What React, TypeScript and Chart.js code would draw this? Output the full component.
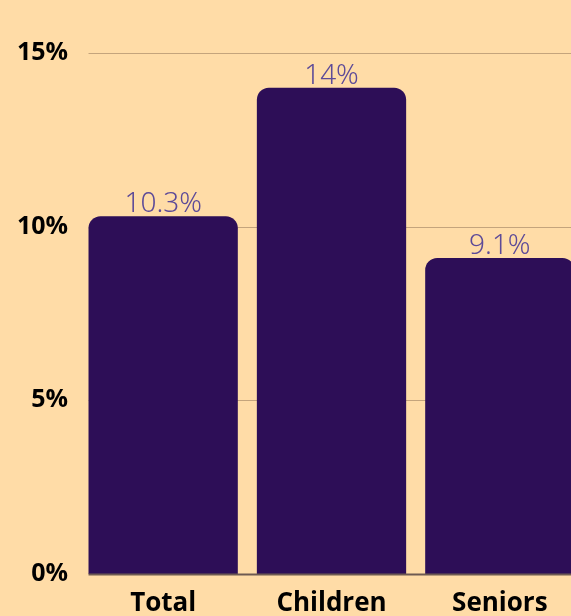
import React, { useEffect, useRef } from "react";
import { Chart, registerables } from "chart.js";

Chart.register(...registerables);

const categories = ["Total", "Children", "Seniors"];
const values = [10.3, 14, 9.1];
const valueLabels = ["10.3%", "14%", "9.1%"];
const yTicks = [0, 5, 10, 15];

const BG = "#FFDCA7";
const BAR = "#2D0E57";
const LABEL = "#5D4A98";
const GRID = "#C4A47C";
const ZERO = "#6E5A52";

export default function App() {
  const ref = useRef<HTMLCanvasElement | null>(null);

  useEffect(() => {
    if (!ref.current) return;
    const customPlugin = {
      id: "custom",
      beforeDatasetsDraw(chart: any) {
        const { ctx, chartArea } = chart;
        const meta = chart.getDatasetMeta(0);
        const first = meta.data[0] as any;
        const startX = first.x - first.width / 2;
        const y = chart.scales.y;
        ctx.save();
        ctx.strokeStyle = GRID;
        ctx.lineWidth = 1;
        yTicks.forEach((t) => {
          if (t === 0) return;
          const py = Math.round(y.getPixelForValue(t)) + 0.5;
          ctx.beginPath();
          ctx.moveTo(startX, py);
          ctx.lineTo(chartArea.right, py);
          ctx.stroke();
        });
        ctx.restore();
      },
      afterDatasetsDraw(chart: any) {
        const { ctx, chartArea } = chart;
        const meta = chart.getDatasetMeta(0);
        const first = meta.data[0] as any;
        const startX = first.x - first.width / 2;
        const y = chart.scales.y;
        ctx.save();
        ctx.strokeStyle = ZERO;
        ctx.lineWidth = 2;
        const py0 = y.getPixelForValue(0) + 0.5;
        ctx.beginPath();
        ctx.moveTo(startX, py0);
        ctx.lineTo(chartArea.right, py0);
        ctx.stroke();

        ctx.fillStyle = LABEL;
        ctx.font = "300 28px 'Noto Sans', sans-serif";
        ctx.textAlign = "center";
        ctx.textBaseline = "alphabetic";
        meta.data.forEach((bar: any, i: number) => {
          ctx.fillText(valueLabels[i], bar.x, bar.y - 4);
        });
        ctx.restore();
      },
    };

    const chart = new Chart(ref.current, {
      type: "bar",
      data: {
        labels: categories,
        datasets: [
          {
            data: values,
            backgroundColor: BAR,
            borderRadius: { topLeft: 12, topRight: 12, bottomLeft: 0, bottomRight: 0 },
            borderSkipped: "start",
            barPercentage: 149 / 168,
            categoryPercentage: 1,
          },
        ],
      },
      options: {
        animation: false,
        responsive: true,
        maintainAspectRatio: false,
        layout: { padding: { top: 53, right: 0, bottom: 0, left: 0 } },
        plugins: { legend: { display: false }, tooltip: { enabled: false } },
        scales: {
          x: {
            grid: { display: false, drawTicks: false },
            border: { display: false },
            ticks: {
              color: "#000",
              font: { family: "'Open Sans', sans-serif", size: 26, weight: "bold" },
              padding: 14,
            },
            afterFit: (s: any) => {
              s.height = 42;
            },
          },
          y: {
            min: 0,
            max: 15,
            afterBuildTicks: (s: any) => {
              s.ticks = yTicks.map((v) => ({ value: v }));
            },
            grid: { display: false, drawTicks: false },
            border: { display: false },
            ticks: {
              color: "#000",
              font: { family: "'Open Sans', sans-serif", size: 25, weight: "bold" },
              padding: 11,
              callback: (v: any) => v + "%",
            },
            afterFit: (s: any) => {
              s.width = 79;
            },
          },
        },
      },
      plugins: [customPlugin],
    });
    return () => chart.destroy();
  }, []);

  return (
    <div
      style={{
        position: "fixed",
        left: 0,
        top: 0,
        width: "100vw",
        height: "100vh",
        overflow: "hidden",
        background: BG,
      }}
    >
      <div style={{ position: "absolute", left: 0, top: 0, width: 584, height: 616 }}>
        <canvas ref={ref} />
      </div>
    </div>
  );
}
